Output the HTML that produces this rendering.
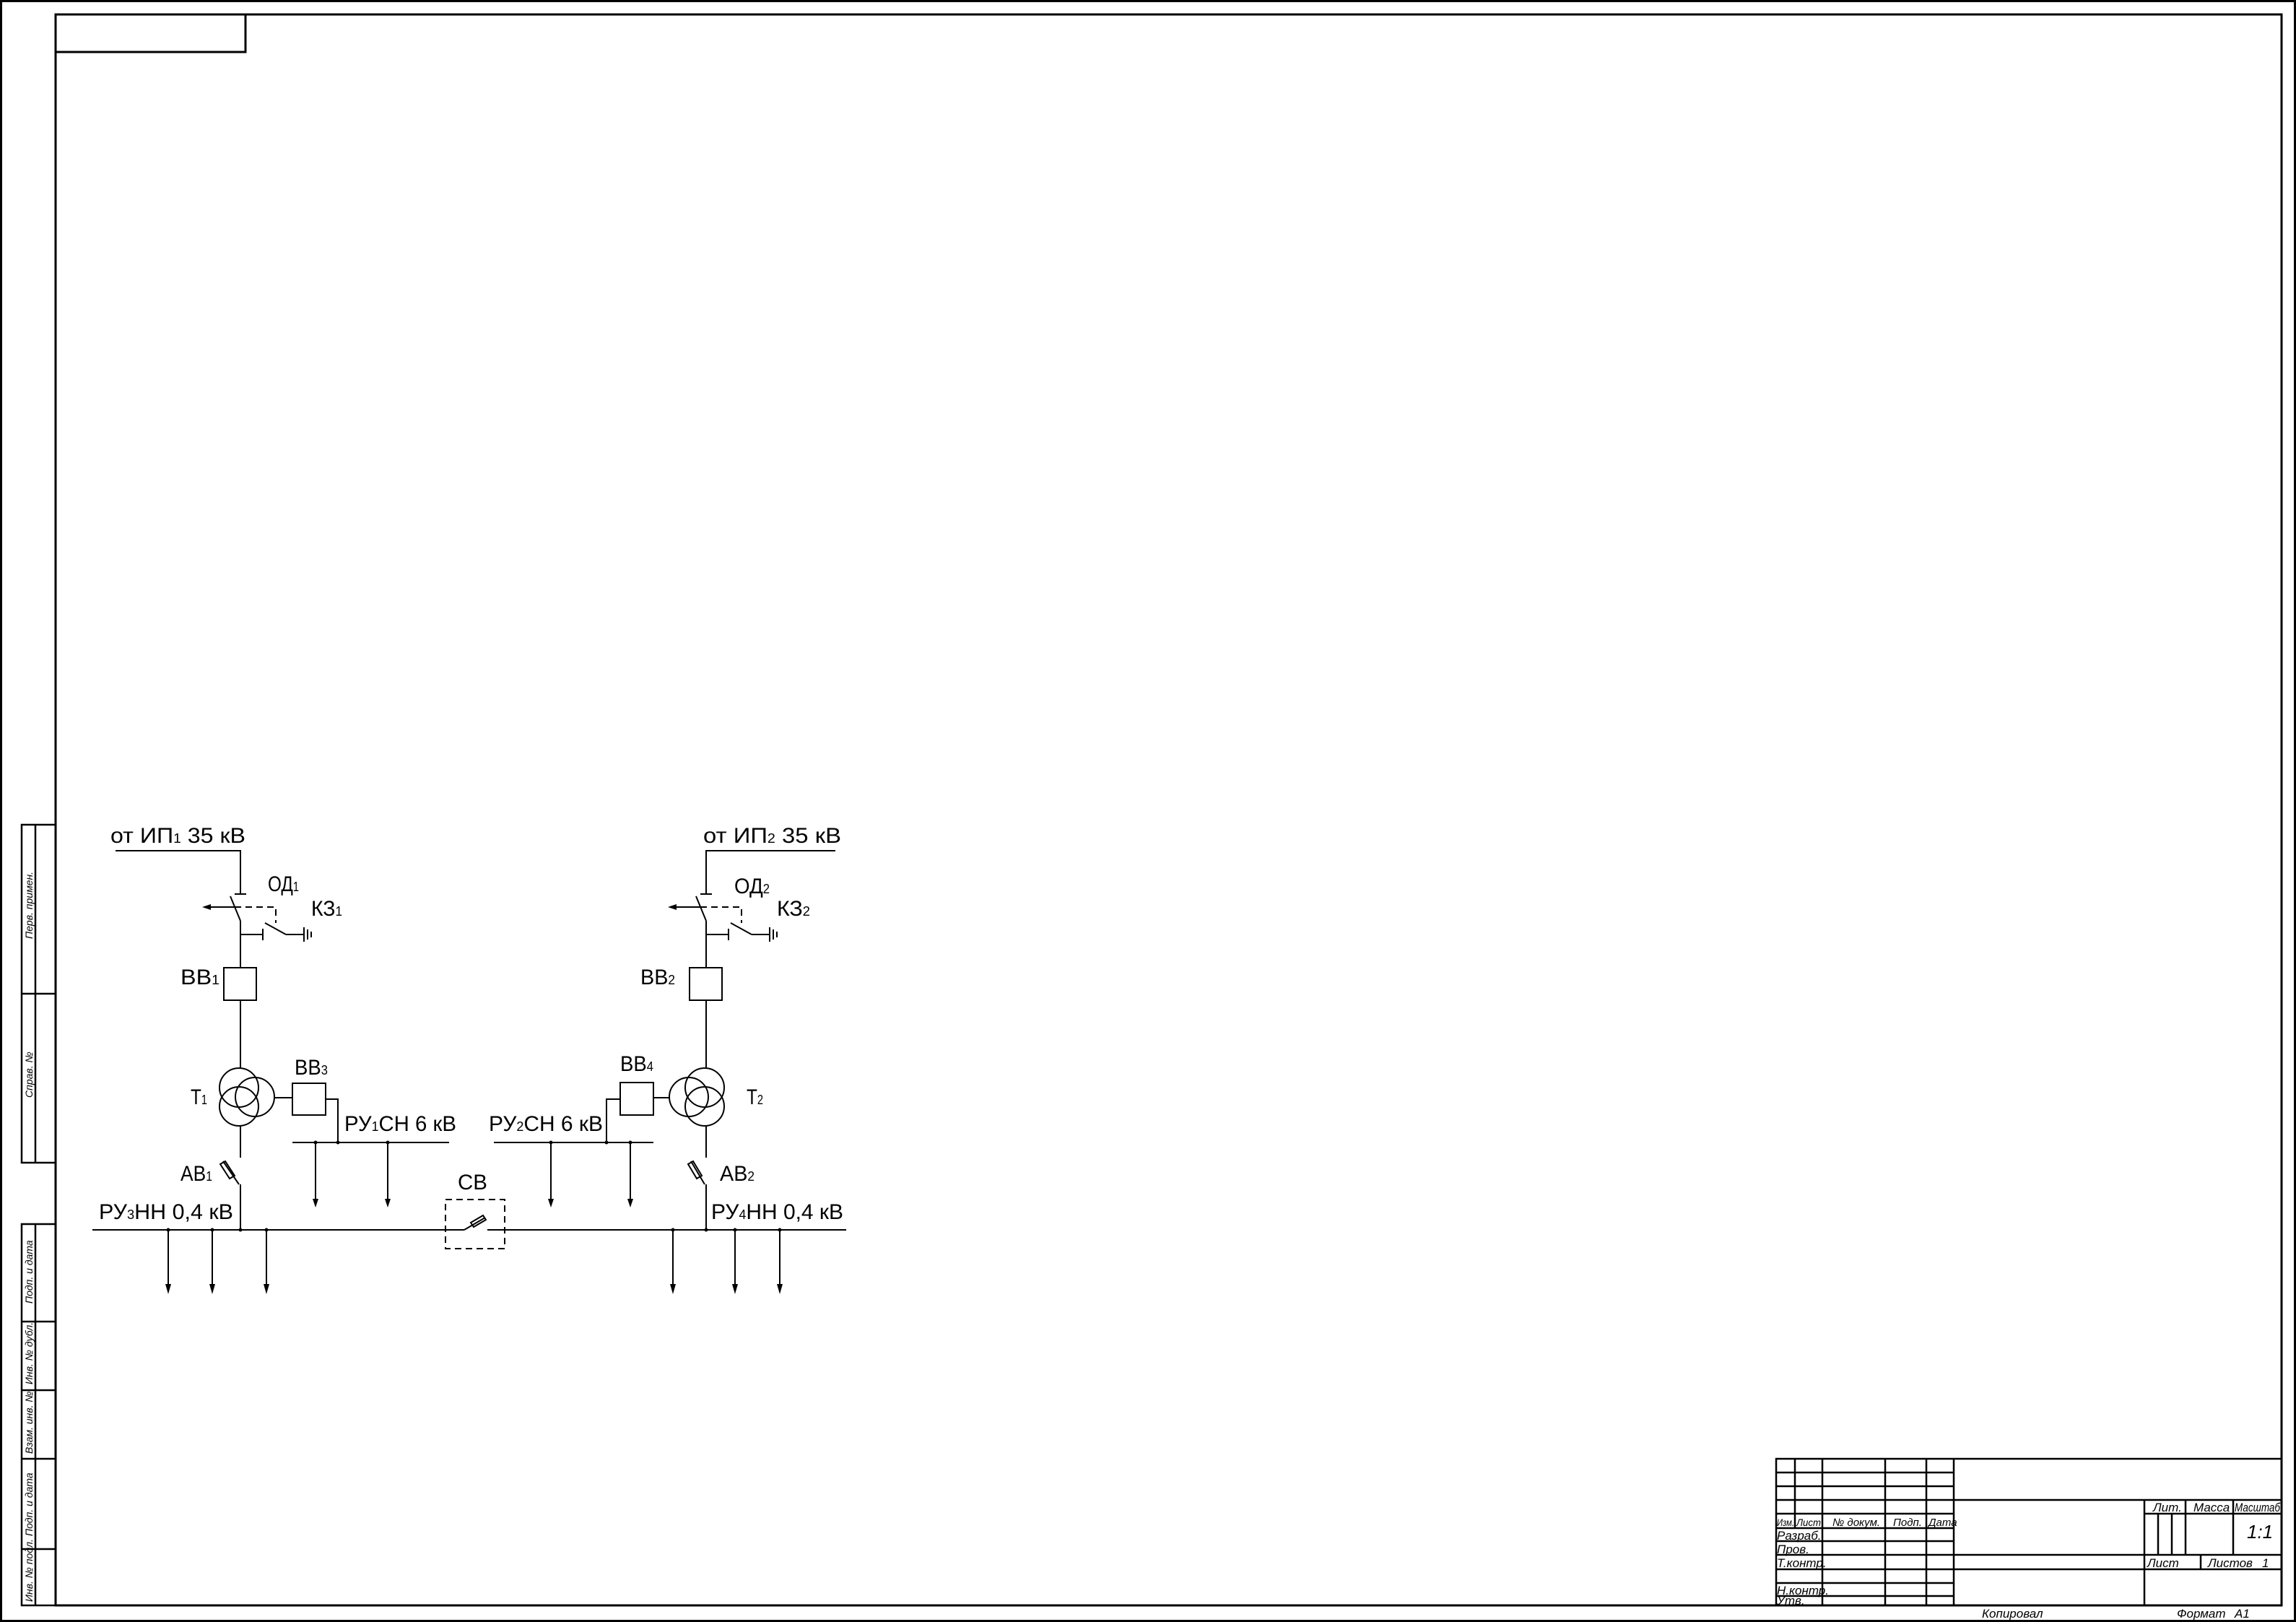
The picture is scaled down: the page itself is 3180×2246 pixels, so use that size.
<!DOCTYPE html>
<html><head><meta charset="utf-8"><style>
html,body{margin:0;padding:0;background:#fff;}
svg{display:block;}
text{font-family:"Liberation Sans",sans-serif;fill:#000;}
.d{font-size:30px;}
.t{font-size:17px;font-style:italic;}
.v{font-size:14px;font-style:italic;}
</style></head><body>
<svg width="3180" height="2246" viewBox="0 0 3180 2246" xmlns="http://www.w3.org/2000/svg">
<g fill="none" stroke="#000" stroke-width="3">
<rect x="1.5" y="1.5" width="3177" height="2243"/>
<rect x="77" y="20" width="3083" height="2203"/>
<rect x="77" y="20" width="263" height="52"/>
</g>
<g fill="none" stroke="#000" stroke-width="2.5">
<rect x="30" y="1142" width="47" height="468"/>
<line x1="30" y1="1376" x2="77" y2="1376"/>
<line x1="49" y1="1142" x2="49" y2="1610"/>
<rect x="30" y="1695" width="47" height="528"/>
<line x1="49" y1="1695" x2="49" y2="2223"/>
<line x1="30" y1="1830" x2="77" y2="1830"/>
<line x1="30" y1="1925" x2="77" y2="1925"/>
<line x1="30" y1="2020" x2="77" y2="2020"/>
<line x1="30" y1="2145" x2="77" y2="2145"/>
</g>
<g class="v">
<text transform="translate(45,1300) rotate(-90)">Перв. примен.</text>
<text transform="translate(45,1520) rotate(-90)">Справ. №</text>
<text transform="translate(45,1805) rotate(-90)">Подп. и дата</text>
<text transform="translate(45,1917) rotate(-90)">Инв. № дубл.</text>
<text transform="translate(45,2013) rotate(-90)">Взам. инв. №</text>
<text transform="translate(45,2127) rotate(-90)">Подп. и дата</text>
<text transform="translate(45,2218) rotate(-90)">Инв. № подл.</text>
</g>
<g fill="none" stroke="#000" stroke-width="2.5">
<rect x="2460" y="2020" width="700" height="203"/>
<line x1="2460" y1="2039" x2="2706" y2="2039"/>
<line x1="2460" y1="2058" x2="2706" y2="2058"/>
<line x1="2460" y1="2077" x2="3160" y2="2077"/>
<line x1="2460" y1="2096" x2="2706" y2="2096"/>
<line x1="2970" y1="2096" x2="3160" y2="2096"/>
<line x1="2460" y1="2116" x2="2706" y2="2116"/>
<line x1="2460" y1="2134" x2="2706" y2="2134"/>
<line x1="2460" y1="2153" x2="3160" y2="2153"/>
<line x1="2460" y1="2173" x2="3160" y2="2173"/>
<line x1="2460" y1="2192" x2="2706" y2="2192"/>
<line x1="2460" y1="2210" x2="2706" y2="2210"/>
<line x1="2486" y1="2020" x2="2486" y2="2116"/>
<line x1="2524" y1="2020" x2="2524" y2="2223"/>
<line x1="2611" y1="2020" x2="2611" y2="2223"/>
<line x1="2668" y1="2020" x2="2668" y2="2223"/>
<line x1="2706" y1="2020" x2="2706" y2="2223"/>
<line x1="2970" y1="2077" x2="2970" y2="2223"/>
<line x1="2989" y1="2096" x2="2989" y2="2153"/>
<line x1="3008" y1="2096" x2="3008" y2="2153"/>
<line x1="3027" y1="2077" x2="3027" y2="2153"/>
<line x1="3093" y1="2077" x2="3093" y2="2153"/>
<line x1="3048" y1="2153" x2="3048" y2="2173"/>
</g>
<g class="t">
<text x="2461" y="2113" font-size="14" textLength="24" lengthAdjust="spacingAndGlyphs">Изм.</text>
<text x="2488" y="2113" font-size="14" textLength="34" lengthAdjust="spacingAndGlyphs">Лист</text>
<text x="2538" y="2113" font-size="15">№ докум.</text>
<text x="2622" y="2113" font-size="15">Подп.</text>
<text x="2671" y="2113" font-size="15">Дата</text>
<text x="2461" y="2132">Разраб.</text>
<text x="2461" y="2151">Пров.</text>
<text x="2461" y="2170">Т.контр.</text>
<text x="2461" y="2208">Н.контр.</text>
<text x="2461" y="2222">Утв.</text>
<text x="2982" y="2093">Лит.</text>
<text x="3038" y="2093">Масса</text>
<text x="3095" y="2093" textLength="63" lengthAdjust="spacingAndGlyphs">Масштаб</text>
<text x="3112" y="2130" font-size="26">1:1</text>
<text x="2974" y="2170">Лист</text>
<text x="3058" y="2170">Листов</text>
<text x="3133" y="2170">1</text>
<text x="2745" y="2240">Копировал</text>
<text x="3015" y="2240">Формат</text>
<text x="3095" y="2240">А1</text>
</g>
<g fill="none" stroke="#000" stroke-width="2">
<polyline points="160,1178 333,1178 333,1238"/>
<line x1="325" y1="1238" x2="341" y2="1238"/>
<line x1="319" y1="1241" x2="333" y2="1275"/>
<line x1="333" y1="1275" x2="333" y2="1340"/>
<polyline points="325,1256 382,1256 382,1278" stroke-dasharray="9,6"/>
<line x1="325" y1="1256" x2="285" y2="1256"/>
<line x1="333" y1="1294" x2="364" y2="1294"/>
<line x1="364" y1="1286" x2="364" y2="1302"/>
<line x1="367" y1="1278" x2="396" y2="1294"/>
<line x1="396" y1="1294" x2="421" y2="1294"/>
<line x1="421" y1="1284" x2="421" y2="1304"/>
<line x1="426" y1="1287" x2="426" y2="1301"/>
<line x1="431" y1="1290" x2="431" y2="1298"/>
<rect x="310" y="1340" width="45" height="45"/>
<line x1="333" y1="1385" x2="333" y2="1479"/>
<circle cx="331" cy="1506" r="27"/>
<circle cx="331" cy="1532" r="27"/>
<circle cx="353" cy="1519" r="27"/>
<line x1="333" y1="1559" x2="333" y2="1603"/>
<line x1="309" y1="1608" x2="331" y2="1640"/>
<polygon points="305,1612 312,1608 325,1628 318,1632"/>
<line x1="333" y1="1640" x2="333" y2="1703"/>
<line x1="380" y1="1520" x2="405" y2="1520"/>
<rect x="405" y="1500" width="46" height="44"/>
<polyline points="451,1522 468,1522 468,1582"/>
<line x1="405" y1="1582" x2="622" y2="1582"/>
<line x1="437" y1="1582" x2="437" y2="1662"/>
<line x1="537" y1="1582" x2="537" y2="1662"/>
<line x1="128" y1="1703" x2="617" y2="1703"/>
<line x1="699" y1="1703" x2="1172" y2="1703"/>
<rect x="617" y="1661" width="82" height="68" stroke-dasharray="9,6"/>
<line x1="617" y1="1703" x2="643" y2="1703"/>
<line x1="643" y1="1703" x2="672" y2="1686"/>
<polygon points="652,1693 669,1683 673,1689 656,1699"/>
<line x1="675" y1="1703" x2="699" y2="1703"/>
<line x1="233" y1="1703" x2="233" y2="1782"/>
<line x1="294" y1="1703" x2="294" y2="1782"/>
<line x1="369" y1="1703" x2="369" y2="1782"/>
<line x1="932" y1="1703" x2="932" y2="1782"/>
<line x1="1018" y1="1703" x2="1018" y2="1782"/>
<line x1="1080" y1="1703" x2="1080" y2="1782"/>
<polyline points="1157,1178 978,1178 978,1238"/>
<line x1="970" y1="1238" x2="986" y2="1238"/>
<line x1="964" y1="1241" x2="978" y2="1275"/>
<line x1="978" y1="1275" x2="978" y2="1340"/>
<polyline points="970,1256 1027,1256 1027,1278" stroke-dasharray="9,6"/>
<line x1="970" y1="1256" x2="930" y2="1256"/>
<line x1="978" y1="1294" x2="1009" y2="1294"/>
<line x1="1009" y1="1286" x2="1009" y2="1302"/>
<line x1="1012" y1="1278" x2="1041" y2="1294"/>
<line x1="1041" y1="1294" x2="1066" y2="1294"/>
<line x1="1066" y1="1284" x2="1066" y2="1304"/>
<line x1="1071" y1="1287" x2="1071" y2="1301"/>
<line x1="1076" y1="1290" x2="1076" y2="1298"/>
<rect x="955" y="1340" width="45" height="45"/>
<line x1="978" y1="1385" x2="978" y2="1479"/>
<circle cx="976" cy="1506" r="27"/>
<circle cx="976" cy="1532" r="27"/>
<circle cx="954" cy="1519" r="27"/>
<line x1="978" y1="1559" x2="978" y2="1603"/>
<line x1="957" y1="1608" x2="976" y2="1640"/>
<polygon points="953,1612 960,1608 972,1628 965,1632"/>
<line x1="978" y1="1640" x2="978" y2="1703"/>
<line x1="905" y1="1520" x2="927" y2="1520"/>
<rect x="859" y="1499" width="46" height="45"/>
<polyline points="859,1522 840,1522 840,1582"/>
<line x1="684" y1="1582" x2="905" y2="1582"/>
<line x1="763" y1="1582" x2="763" y2="1662"/>
<line x1="873" y1="1582" x2="873" y2="1662"/>
</g>
<g fill="#000">
<polygon points="280,1256 292,1252 292,1260"/>
<polygon points="925,1256 937,1252 937,1260"/>
<polygon points="433,1660 441,1660 437,1672"/>
<polygon points="533,1660 541,1660 537,1672"/>
<polygon points="759,1660 767,1660 763,1672"/>
<polygon points="869,1660 877,1660 873,1672"/>
<polygon points="229,1778 237,1778 233,1792"/>
<polygon points="290,1778 298,1778 294,1792"/>
<polygon points="365,1778 373,1778 369,1792"/>
<polygon points="928,1778 936,1778 932,1792"/>
<polygon points="1014,1778 1022,1778 1018,1792"/>
<polygon points="1076,1778 1084,1778 1080,1792"/>
<circle cx="437" cy="1582" r="2.5"/><circle cx="468" cy="1582" r="2.5"/><circle cx="537" cy="1582" r="2.5"/>
<circle cx="763" cy="1582" r="2.5"/><circle cx="840" cy="1582" r="2.5"/><circle cx="873" cy="1582" r="2.5"/>
<circle cx="233" cy="1703" r="2.5"/><circle cx="294" cy="1703" r="2.5"/><circle cx="333" cy="1703" r="2.5"/><circle cx="369" cy="1703" r="2.5"/>
<circle cx="932" cy="1703" r="2.5"/><circle cx="978" cy="1703" r="2.5"/><circle cx="1018" cy="1703" r="2.5"/><circle cx="1080" cy="1703" r="2.5"/>
</g>
<g class="d">
<text x="153" y="1167" textLength="187" lengthAdjust="spacingAndGlyphs">от ИП<tspan font-size="18">1</tspan> 35 кВ</text>
<text x="974" y="1167" textLength="191" lengthAdjust="spacingAndGlyphs">от ИП<tspan font-size="18">2</tspan> 35 кВ</text>
<text x="371" y="1234" textLength="43" lengthAdjust="spacingAndGlyphs">ОД<tspan font-size="18">1</tspan></text>
<text x="431" y="1268" textLength="43" lengthAdjust="spacingAndGlyphs">КЗ<tspan font-size="18">1</tspan></text>
<text x="250" y="1363" textLength="54" lengthAdjust="spacingAndGlyphs">ВВ<tspan font-size="18">1</tspan></text>
<text x="408" y="1488" textLength="46" lengthAdjust="spacingAndGlyphs">ВВ<tspan font-size="18">3</tspan></text>
<text x="264" y="1529" textLength="23" lengthAdjust="spacingAndGlyphs">Т<tspan font-size="18">1</tspan></text>
<text x="477" y="1566" textLength="155" lengthAdjust="spacingAndGlyphs">РУ<tspan font-size="18">1</tspan>СН 6 кВ</text>
<text x="677" y="1566" textLength="158" lengthAdjust="spacingAndGlyphs">РУ<tspan font-size="18">2</tspan>СН 6 кВ</text>
<text x="859" y="1483" textLength="46" lengthAdjust="spacingAndGlyphs">ВВ<tspan font-size="18">4</tspan></text>
<text x="1034" y="1529" textLength="23" lengthAdjust="spacingAndGlyphs">Т<tspan font-size="18">2</tspan></text>
<text x="887" y="1363" textLength="48" lengthAdjust="spacingAndGlyphs">ВВ<tspan font-size="18">2</tspan></text>
<text x="1017" y="1237" textLength="49" lengthAdjust="spacingAndGlyphs">ОД<tspan font-size="18">2</tspan></text>
<text x="1076" y="1268" textLength="46" lengthAdjust="spacingAndGlyphs">КЗ<tspan font-size="18">2</tspan></text>
<text x="250" y="1635" textLength="44" lengthAdjust="spacingAndGlyphs">АВ<tspan font-size="18">1</tspan></text>
<text x="997" y="1635" textLength="48" lengthAdjust="spacingAndGlyphs">АВ<tspan font-size="18">2</tspan></text>
<text x="634" y="1647" textLength="41" lengthAdjust="spacingAndGlyphs">СВ</text>
<text x="137" y="1688" textLength="186" lengthAdjust="spacingAndGlyphs">РУ<tspan font-size="18">3</tspan>НН 0,4 кВ</text>
<text x="985" y="1688" textLength="183" lengthAdjust="spacingAndGlyphs">РУ<tspan font-size="18">4</tspan>НН 0,4 кВ</text>
</g>
</svg>
</body></html>
